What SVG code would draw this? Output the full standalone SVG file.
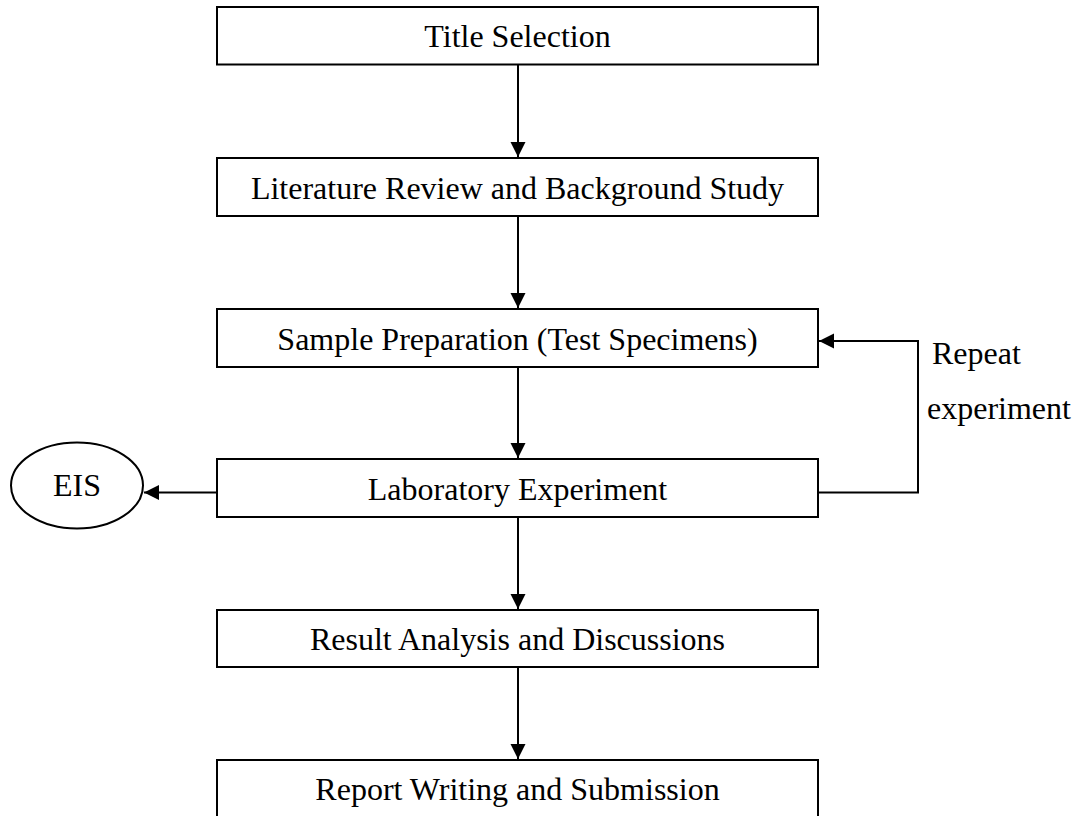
<svg xmlns="http://www.w3.org/2000/svg" width="1080" height="816" viewBox="0 0 1080 816">
<style>
.box{fill:#fff;stroke:#000;stroke-width:2}
.lbl{font-family:"Liberation Serif","Times New Roman",serif;font-size:32px;fill:#000;text-anchor:middle}
.note{font-family:"Liberation Serif","Times New Roman",serif;font-size:32px;fill:#000}
.con{fill:none;stroke:#000;stroke-width:2}
</style>
<defs>
<marker id="ah" markerUnits="userSpaceOnUse" markerWidth="16" markerHeight="16" viewBox="0 0 16 16" refX="15" refY="8" orient="auto">
<path d="M0,0.5 L15,8 L0,15.5 Z" fill="#000"/>
</marker>
</defs>
<rect width="1080" height="816" fill="#fff"/>
<g id="connectors">
<line class="con" x1="518" y1="64" x2="518" y2="157" marker-end="url(#ah)"/>
<line class="con" x1="518" y1="216" x2="518" y2="308" marker-end="url(#ah)"/>
<line class="con" x1="518" y1="367" x2="518" y2="458" marker-end="url(#ah)"/>
<line class="con" x1="518" y1="517" x2="518" y2="609" marker-end="url(#ah)"/>
<line class="con" x1="518" y1="667" x2="518" y2="759" marker-end="url(#ah)"/>
<line class="con" x1="217" y1="492.5" x2="144" y2="492.5" marker-end="url(#ah)"/>
<polyline class="con" points="818,492.5 918,492.5 918,341 819,341" marker-end="url(#ah)"/>
</g>
<g id="title">
<rect class="box" x="217" y="7" width="601" height="57.5"/>
<text class="lbl" x="517.5" y="47">Title Selection</text>
</g>
<g id="literature">
<rect class="box" x="217" y="158" width="601" height="58"/>
<text class="lbl" x="517.5" y="198.5">Literature Review and Background Study</text>
</g>
<g id="sample">
<rect class="box" x="217" y="309" width="601" height="58"/>
<text class="lbl" x="517.5" y="350">Sample Preparation (Test Specimens)</text>
</g>
<g id="laboratory">
<rect class="box" x="217" y="459" width="601" height="58"/>
<text class="lbl" x="517.5" y="500">Laboratory Experiment</text>
</g>
<g id="result">
<rect class="box" x="217" y="610" width="601" height="57"/>
<text class="lbl" x="517.5" y="650">Result Analysis and Discussions</text>
</g>
<g id="report">
<rect class="box" x="217" y="760" width="601" height="58"/>
<text class="lbl" x="517.5" y="800">Report Writing and Submission</text>
</g>
<g id="eis">
<ellipse class="box" cx="77" cy="485.5" rx="66" ry="43"/>
<text class="lbl" x="77" y="496">EIS</text>
</g>
<g id="repeat-label">
<text class="note" x="932" y="364">Repeat</text>
<text class="note" x="927" y="419">experiment</text>
</g>
</svg>
